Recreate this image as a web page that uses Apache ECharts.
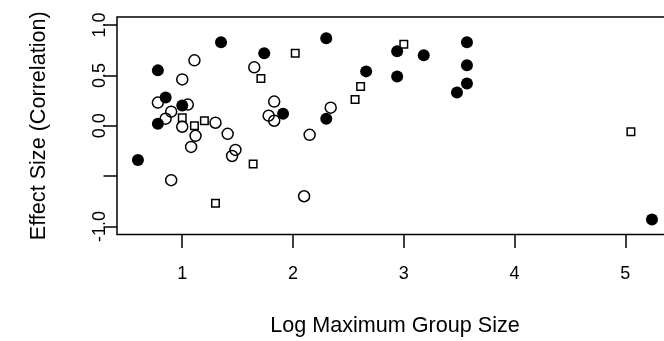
<!DOCTYPE html>
<html>
<head>
<meta charset="utf-8">
<script src="https://cdn.jsdelivr.net/npm/echarts@6/dist/echarts.min.js"></script>
<style>
  html, body { margin: 0; padding: 0; background: #fff; }
  #chart { width: 664px; height: 341px; }
</style>
</head>
<body>
<div id="chart"></div>
<script>
const filledX = [0.60, 0.78, 0.85, 0.78, 1.00, 1.35, 1.74, 1.91, 2.30, 2.94, 3.18, 3.57, 2.66, 2.94, 3.57, 3.57, 3.48, 2.30, 5.24];
const filledY = [-0.34, 0.55, 0.28, 0.02, 0.20, 0.83, 0.72, 0.12, 0.87, 0.74, 0.70, 0.83, 0.54, 0.49, 0.60, 0.42, 0.33, 0.07, -0.93];

const openX = [1.11, 1.00, 1.65, 0.78, 0.90, 0.85, 1.05, 1.83, 1.78, 1.83, 1.00, 1.30, 1.12, 1.41, 1.08, 1.48, 1.45, 0.90, 2.15, 2.10, 2.34];
const openY = [0.65, 0.46, 0.58, 0.23, 0.14, 0.07, 0.21, 0.24, 0.10, 0.05, -0.01, 0.03, -0.10, -0.08, -0.21, -0.24, -0.30, -0.54, -0.09, -0.70, 0.18];

const squareX = [1.00, 1.11, 1.20, 1.71, 2.02, 1.64, 1.30, 3.00, 2.61, 2.56, 5.05];
const squareY = [0.08, 0.00, 0.05, 0.47, 0.72, -0.38, -0.77, 0.81, 0.39, 0.26, -0.06];

const xTicks = [1, 2, 3, 4, 5];
const yTicks = [-1, -0.5, 0, 0.5, 1];
const yLabels = [-1, 0, 0.5, 1];

const pairs = (xs, ys) => xs.map((x, i) => [x, ys[i]]);

const chart = echarts.init(document.getElementById("chart"));
const font = "'Liberation Sans', Arial, sans-serif";

chart.setOption({
  animation: false,
  grid: {
    left: 117, top: 17, width: 556, height: 217.5,
    outerBoundsMode: "none",
    show: true, borderColor: "#000", borderWidth: 1.5, backgroundColor: "transparent"
  },
  xAxis: {
    type: "value",
    min: 0.411,
    max: 5.43,
    name: "Log Maximum Group Size",
    nameLocation: "middle",
    nameGap: 81,
    nameTextStyle: { color: "#000", fontSize: 21.6, fontFamily: font },
    splitLine: { show: false },
    axisLine: { show: false, onZero: false },
    axisTick: { show: true, length: 13.5, customValues: xTicks, lineStyle: { color: "#000", width: 1.5 } },
    axisLabel: { customValues: xTicks, margin: 31, color: "#000", fontSize: 18, fontFamily: font }
  },
  yAxis: {
    type: "value",
    min: -1.08,
    max: 1.08,
    name: "Effect Size (Correlation)",
    nameLocation: "middle",
    nameGap: 67,
    nameTextStyle: { color: "#000", fontSize: 21.6, fontFamily: font },
    splitLine: { show: false },
    axisLine: { show: false, onZero: false },
    axisTick: { show: true, length: 13.5, customValues: yTicks, lineStyle: { color: "#000", width: 1.5 } },
    axisLabel: {
      customValues: yLabels, rotate: 90, margin: 8,
      color: "#000", fontSize: 18, fontFamily: font,
      formatter: (v) => v.toFixed(1)
    }
  },
  series: [
    {
      type: "scatter",
      data: pairs(filledX, filledY),
      symbol: "circle",
      symbolSize: 12,
      itemStyle: { color: "#000", opacity: 1 }
    },
    {
      type: "scatter",
      data: pairs(openX, openY),
      symbol: "circle",
      symbolSize: 11,
      itemStyle: { color: "rgba(0,0,0,0)", borderColor: "#000", borderWidth: 1.5, opacity: 1 }
    },
    {
      type: "scatter",
      data: pairs(squareX, squareY),
      symbol: "rect",
      symbolSize: 7.5,
      itemStyle: { color: "rgba(0,0,0,0)", borderColor: "#000", borderWidth: 1.5, opacity: 1 }
    }
  ]
});
</script>
</body>
</html>
